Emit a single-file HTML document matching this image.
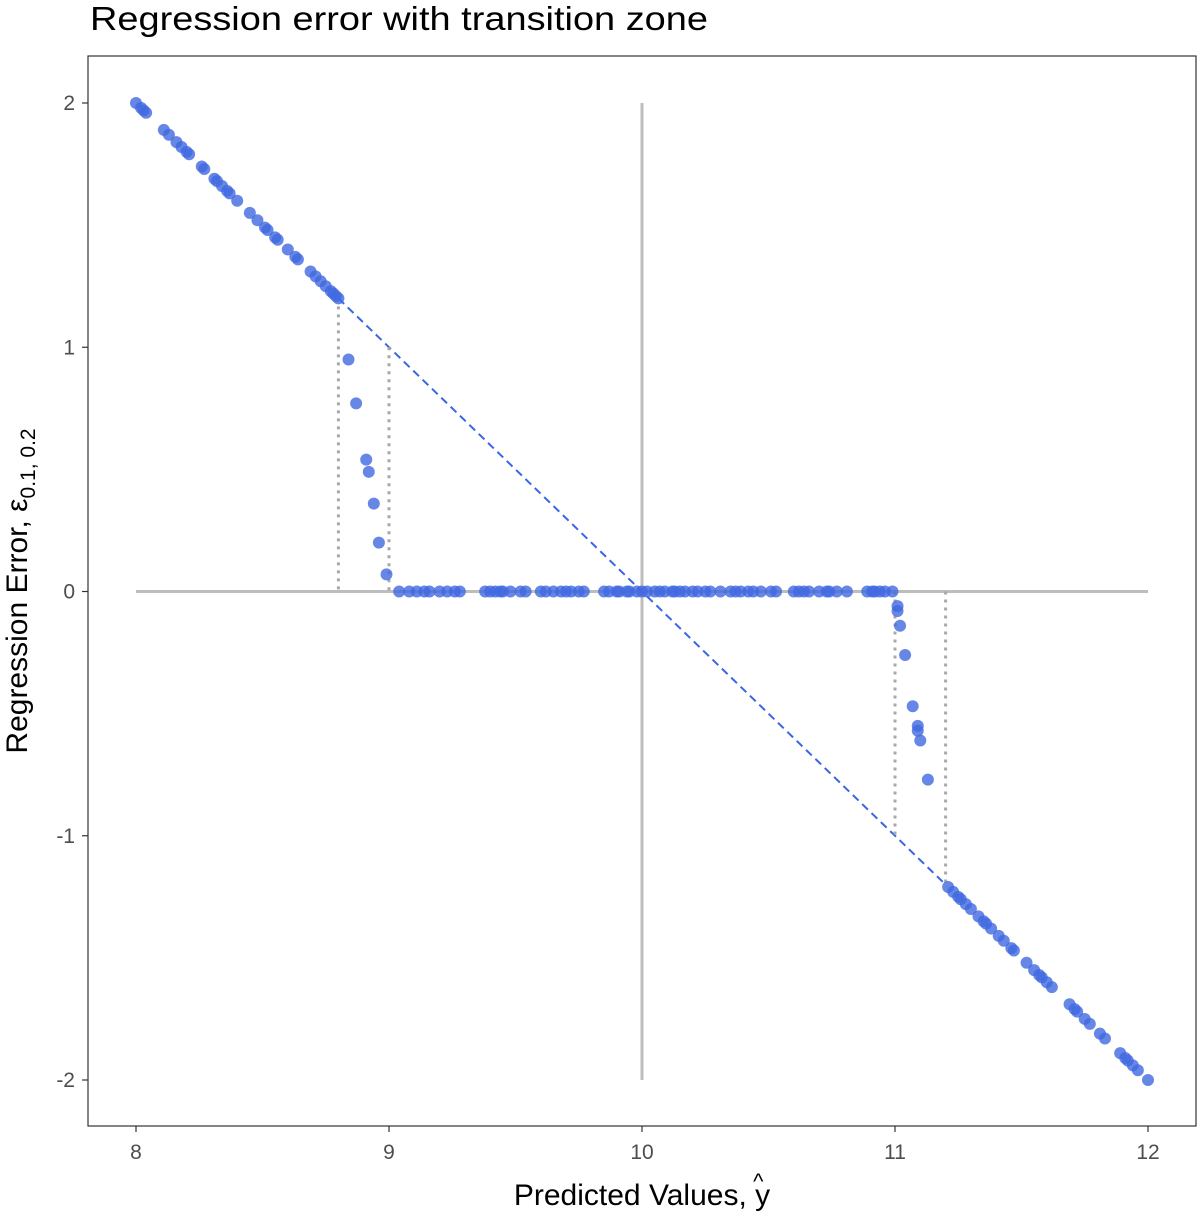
<!DOCTYPE html>
<html><head><meta charset="utf-8"><style>
body{margin:0;background:#fff;}
svg{display:block;font-family:"Liberation Sans",sans-serif;}
</style></head><body>
<svg id="chart" width="1200" height="1218">
<text x="90" y="30" font-size="33" fill="#000" textLength="618" lengthAdjust="spacingAndGlyphs">Regression error with transition zone</text>
<rect x="88" y="56" width="1108" height="1070" fill="none" stroke="#333" stroke-width="1.2"/>
<g id="ref"></g>
<g id="pts"></g>
<g id="axes"></g>
<text x="642" y="1205" font-size="30" text-anchor="middle" fill="#000">Predicted Values, y<tspan dx="-17" dy="-16" font-size="22">^</tspan></text>
<text transform="translate(27,591) rotate(-90)" font-size="30" text-anchor="middle" fill="#000">Regression Error, ε<tspan font-size="21" dy="8">0.1, 0.2</tspan></text>
</svg>
<script>
const xTicks=[8,9,10,11,12];
const yTicks=[2,1,0,-1,-2];
const diagLeftY=[2,1.98,1.97,1.96,1.89,1.87,1.84,1.82,1.80,1.79,1.74,1.73,1.69,1.68,1.66,1.64,1.63,1.60,1.55,1.52,1.49,1.48,1.45,1.44,1.40,1.37,1.36,1.31,1.29,1.27,1.25,1.23,1.22,1.21,1.20];
const transLeftX=[8.84,8.87,8.91,8.92,8.94,8.96,8.99];
const transLeftY=[0.95,0.77,0.54,0.49,0.36,0.20,0.07];
const zeroX=[9.04,9.08,9.11,9.14,9.16,9.20,9.23,9.26,9.28,9.38,9.40,9.42,9.44,9.45,9.48,9.52,9.54,9.60,9.62,9.65,9.68,9.70,9.72,9.75,9.77,9.85,9.87,9.90,9.91,9.94,9.95,9.98,10.00,10.02,10.05,10.07,10.09,10.12,10.13,10.15,10.17,10.20,10.22,10.25,10.27,10.31,10.35,10.37,10.39,10.42,10.44,10.47,10.51,10.53,10.60,10.62,10.64,10.66,10.70,10.73,10.74,10.77,10.81,10.89,10.91,10.92,10.94,10.96,10.99];
const transRightX=[11.01,11.01,11.02,11.04,11.07,11.09,11.09,11.10,11.13];
const transRightY=[-0.06,-0.08,-0.14,-0.26,-0.47,-0.55,-0.57,-0.61,-0.77];
const diagRightY=[-1.21,-1.23,-1.25,-1.26,-1.28,-1.30,-1.33,-1.35,-1.36,-1.38,-1.41,-1.43,-1.46,-1.47,-1.52,-1.55,-1.57,-1.58,-1.60,-1.62,-1.69,-1.71,-1.72,-1.75,-1.77,-1.81,-1.83,-1.89,-1.91,-1.92,-1.94,-1.96,-2.00];

const X=v=>136+(v-8)*253;
const Y=v=>591.5-v*244.25;
const NS="http://www.w3.org/2000/svg";
function mk(tag,parent,attrs){const e=document.createElementNS(NS,tag);for(const k in attrs)e.setAttribute(k,attrs[k]);parent.appendChild(e);return e;}
const ref=document.getElementById('ref'),pts=document.getElementById('pts'),axes=document.getElementById('axes');

let l=mk('line',ref,{x1:X(10),x2:X(10),y1:Y(2),y2:Y(-2),stroke:'#bdbdbd','stroke-width':3});


l=mk('line',ref,{x1:X(8),x2:X(12),y1:Y(0),y2:Y(0),stroke:'#bdbdbd','stroke-width':3});


l=mk('line',ref,{x1:X(8.8),x2:X(11.2),y1:Y(1.2),y2:Y(-1.2),stroke:'#3a66e6','stroke-width':2,'stroke-dasharray':'8,5'});


const dots=[[8.8,1.2,0],[9,1,0],[11,0,-1],[11.2,0,-1.2]];
dots.forEach(d=>{const e=mk('line',ref,{x1:X(d[0]),x2:X(d[0]),y1:Y(d[1]),y2:Y(d[2]),stroke:'#a8a8a8','stroke-width':3,'stroke-dasharray':'3,5'});

});

function pt(x,y){const c=mk('circle',pts,{cx:X(x),cy:Y(y),r:6,fill:'#4169e1','fill-opacity':0.8});

}
diagLeftY.forEach(y=>pt(10-y,y));
transLeftX.forEach((x,i)=>pt(x,transLeftY[i]));
zeroX.forEach(x=>pt(x,0));
transRightX.forEach((x,i)=>pt(x,transRightY[i]));
diagRightY.forEach(y=>pt(10-y,y));

xTicks.forEach(v=>{const t=mk('line',axes,{x1:X(v),x2:X(v),y1:1126,y2:1132,stroke:'#333','stroke-width':1.2});


const s=mk('text',axes,{x:X(v),y:1159,'font-size':21,'text-anchor':'middle',fill:'#4d4d4d'});s.textContent=v;

});
yTicks.forEach(v=>{const t=mk('line',axes,{x1:82,x2:88,y1:Y(v),y2:Y(v),stroke:'#333','stroke-width':1.2});


const s=mk('text',axes,{x:75,y:Y(v)+7,'font-size':21,'text-anchor':'end',fill:'#4d4d4d'});s.textContent=v;

});
</script>
</body></html>
